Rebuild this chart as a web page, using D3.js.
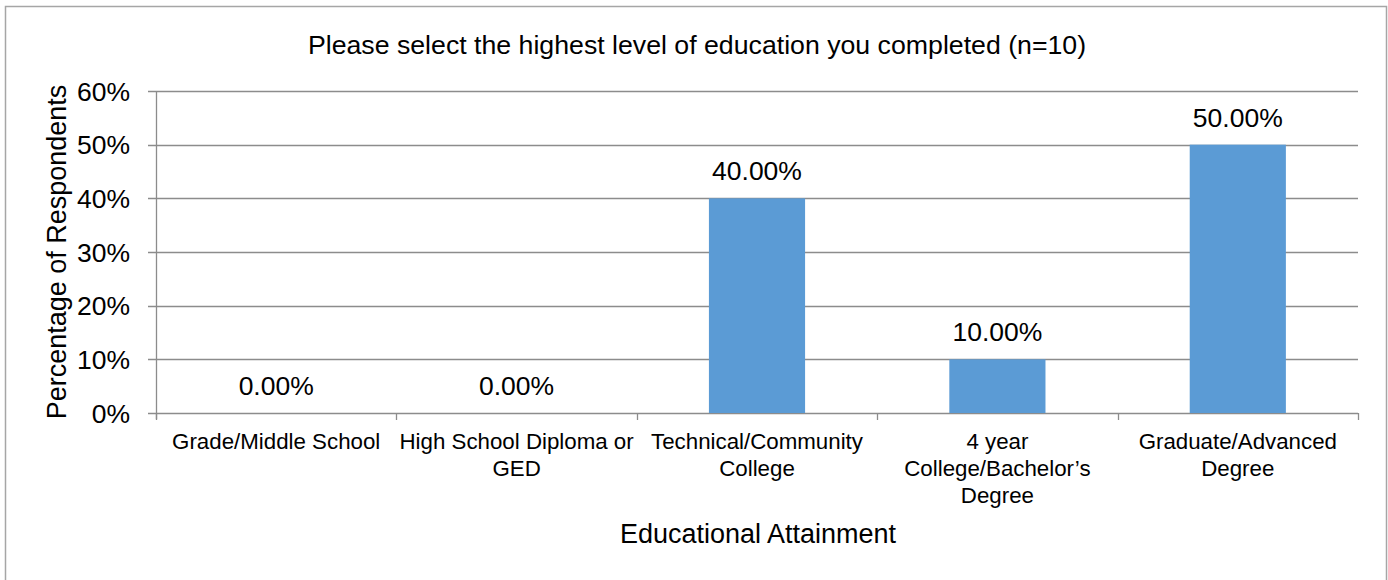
<!DOCTYPE html>
<html>
<head>
<meta charset="utf-8">
<script src="https://cdn.jsdelivr.net/npm/d3@7"></script>
<style>
body{margin:0;background:#fff;}
text{fill:#000;font-family:'Liberation Sans',Arial,sans-serif;}
</style>
</head>
<body>
<div id="root"></div>
<script>
var categories=[['Grade/Middle School'],['High School Diploma or','GED'],['Technical/Community','College'],['4 year','College/Bachelor\u2019s','Degree'],['Graduate/Advanced','Degree']];
var values=[0,0,40,10,50];
var yTicks=[0,10,20,30,40,50,60];
var title='Please select the highest level of education you completed (n=10)';
var xTitle='Educational Attainment';
var yTitle='Percentage of Respondents';

var W=1388,H=580;
var b={t:91,r:30,b:167,l:156};
var w=W-b.l-b.r;
var h=H-b.t-b.b;

var svg=d3.select('#root').append('svg').attr('width',W).attr('height',H);

svg.append('rect').attr('x',5.5).attr('y',6.5).attr('width',1381).attr('height',620)
	.attr('fill','none').attr('stroke','#a6a6a6').attr('stroke-width',1.5);

svg.append('text').attr('x',697).attr('y',54).attr('text-anchor','middle')
	.style('font-size','26.7px').text(title);

var g=svg.append('g').attr('transform','translate('+b.l+','+b.t+')');

var x=d3.scaleBand().domain(d3.range(values.length)).range([0,w]).paddingInner(0.6).paddingOuter(0.3);
var xb=d3.scaleBand().domain(d3.range(values.length)).range([0,w]);
var y=d3.scaleLinear().domain([0,60]).range([h,0]);

// gridlines
g.selectAll('.grid').data(yTicks).enter().append('line')
	.attr('x1',-8).attr('x2',w).attr('y1',function(d){return Math.round(y(d))+0.5}).attr('y2',function(d){return Math.round(y(d))+0.5})
	.attr('stroke','#8c8c8c').attr('stroke-width',1.3);

g.append('line').attr('x1',0.5).attr('x2',0.5).attr('y1',0).attr('y2',h+6).attr('stroke','#8c8c8c').attr('stroke-width',1.3);
g.selectAll('.xtick').data(d3.range(values.length+1)).enter().append('line')
	.attr('x1',function(d){return Math.round(d*xb.bandwidth())+0.5}).attr('x2',function(d){return Math.round(d*xb.bandwidth())+0.5})
	.attr('y1',h).attr('y2',h+7).attr('stroke','#8c8c8c').attr('stroke-width',1.3);

g.selectAll('.ylab').data(yTicks).enter().append('text')
	.attr('x',-26).attr('y',function(d){return y(d)}).attr('dy','0.36em').attr('text-anchor','end')
	.style('font-size','26.5px')
	.text(function(d){return d+'%'});

g.selectAll('.bar').data(values).enter().append('rect')
	.attr('x',function(d,i){return x(i)}).attr('width',x.bandwidth())
	.attr('y',function(d){return y(d)}).attr('height',function(d){return h-y(d)})
	.attr('fill','#5b9bd5');

g.selectAll('.dlab').data(values).enter().append('text')
	.attr('x',function(d,i){return xb(i)+xb.bandwidth()/2}).attr('y',function(d){return y(d)-18})
	.attr('text-anchor','middle')
	.style('font-size','26.5px')
	.text(function(d){return d.toFixed(2)+'%'});

var xl=g.selectAll('.xlab').data(categories).enter().append('text')
	.attr('text-anchor','middle')
	.style('font-size','22.3px');
xl.each(function(lines,i){
	var t=d3.select(this);
	lines.forEach(function(s,j){
		t.append('tspan').attr('x',xb(i)+xb.bandwidth()/2).attr('y',h+36+j*27).text(s);
	});
});

svg.append('text').attr('x',758).attr('y',543).attr('text-anchor','middle')
	.style('font-size','27px')
	.text(xTitle);

svg.append('text').attr('transform','translate(66,'+(b.t+h/2)+') rotate(-90)').attr('text-anchor','middle')
	.style('font-size','27px')
	.text(yTitle);
</script>
</body>
</html>
